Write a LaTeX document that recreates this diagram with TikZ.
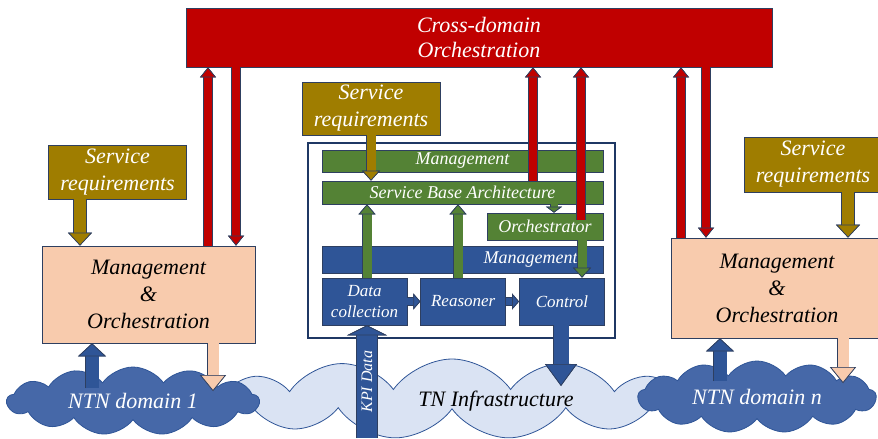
\documentclass[tikz,border=0pt]{standalone}
\usepackage{fontspec}
\setmainfont{Liberation Serif}
\usetikzlibrary{positioning,shapes.symbols,arrows.meta}
\definecolor{crossred}{HTML}{C00000}
\definecolor{olivebox}{HTML}{9F7D00}
\definecolor{peachbox}{HTML}{F8CBAD}
\definecolor{greenbox}{HTML}{548235}
\definecolor{bluebox}{HTML}{2F5597}
\definecolor{framec}{HTML}{1F3864}
\definecolor{edgec}{HTML}{2E3F60}
\definecolor{ntncloud}{HTML}{4668A8}
\definecolor{tncloud}{HTML}{DAE3F3}

\tikzset{
  box/.style={draw=edgec, line width=0.7pt, inner sep=0pt, align=center, font=\itshape\fontsize{22}{25}\selectfont},
  cross/.style={box, fill=crossred, text=white},
  req/.style={box, fill=olivebox, text=white, minimum width=138pt, minimum height=54pt, font=\itshape\fontsize{22}{27}\selectfont},
  mo/.style={box, fill=peachbox, text=black, font=\itshape\fontsize{22}{27}\selectfont},
  gbar/.style={box, fill=greenbox, text=white, font=\itshape\fontsize{18}{20}\selectfont},
  bbar/.style={box, fill=bluebox, text=white, font=\itshape\fontsize{18}{20}\selectfont},
  fn/.style={bbar, minimum width=85pt, minimum height=47pt, font=\itshape\fontsize{17}{21}\selectfont},
  cl/.style={cloud, cloud puffs=13, cloud puff arc=110, cloud ignores aspect, draw=bluebox, line width=0.8pt, inner sep=0pt},
  lab/.style={font=\itshape\fontsize{22}{26}\selectfont},
  blk/.style n args={4}{draw=#1, line width=#2, -{Triangle[width=#3, length=#4, line width=0.7pt, color=edgec, fill=#1]}, preaction={draw=edgec, line width=#2+1.4pt}},
  redar/.style={blk={crossred}{8pt}{16pt}{10pt}},
}

\begin{document}
\begin{tikzpicture}[x=1pt, y=-1pt]
\useasboundingbox (0,0) rectangle (878,439);

% clouds
\node[cl, fill=tncloud, minimum width=478pt, minimum height=80pt] (tn) at (452,399) {};
\node[lab, text=black] (tnlab) at (496,401) {TN Infrastructure};
\node[cl, fill=ntncloud, minimum width=252pt, minimum height=68pt, lab, text=white] (ntn1) at (133,401) {NTN domain 1};
\node[cl, fill=ntncloud, minimum width=238pt, minimum height=72pt, lab, text=white] (ntnn) at (757,397) {NTN domain n};

% top and side boxes
\node[cross, minimum width=586pt, minimum height=59pt] (cdo) at (479,37.5) {Cross-domain\\Orchestration};
\node[req] (srL) at (117.5,172) {Service\\requirements};
\node[req, minimum height=53pt] (srM) at (371,108.5) {Service\\requirements};
\node[req, minimum height=55pt] (srR) at (813,164.5) {Service\\requirements};
\node[mo, minimum width=213pt, minimum height=97pt] (moL) at (148.5,294.5) {Management\\\&\\Orchestration};
\node[mo, minimum width=212pt, minimum height=100pt] (moR) at (777,288) {Management\\\&\\Orchestration};

% TN domain controller
\node[draw=framec, line width=2.6pt, fill=white, minimum width=307pt, minimum height=195pt] (frame) at (461.5,240.5) {};
\node[gbar, minimum width=281pt, minimum height=22pt] (mgG) at (462.5,161) {Management};
\node[gbar, minimum width=281pt, minimum height=23pt] (sba) at (462.5,192.5) {Service Base Architecture};
\node[gbar, minimum width=116pt, minimum height=27pt] (orch) at (545,226.5) {Orchestrator};
\node[bbar, minimum width=281pt, minimum height=27pt, text width=230pt, align=right] (mgB) at (462.5,259.5) {Management};
\node[fn] (dc) at (364.5,301.5) {Data\\collection};
\node[fn, right=13pt of dc] (rsn) {Reasoner};
\node[fn, right=13pt of rsn] (ctl) {Control};

% arrow columns and loose ends
\coordinate (r1) at (208,0);
\coordinate (r2) at (236,0);
\coordinate (r3) at (533,0);
\coordinate (r4) at (581,0);
\coordinate (r5) at (681,0);
\coordinate (r6) at (706,0);
\coordinate (o1) at (80,0);
\coordinate (o2) at (371,0);
\coordinate (o3) at (848,0);
\coordinate (g1) at (367,0);
\coordinate (g2) at (458,0);
\coordinate (g3) at (554,0);
\coordinate (g4) at (582,0);
\coordinate (upL) at (92,388);
\coordinate (dnL) at (213,391);
\coordinate (upR) at (720,381);
\coordinate (dnR) at (843,383);
\coordinate (kpi) at (367,438);
\coordinate (tnin) at (561,386);

% red links to cross-domain orchestration
\draw[redar] (moL.north -| r1) -- (cdo.south -| r1);
\draw[redar] (cdo.south -| r2) -- (moL.north -| r2);
\draw[redar] (sba.north -| r3) -- (cdo.south -| r3);
\draw[redar] ([yshift=-7pt]orch.north -| r4) -- (cdo.south -| r4);
\draw[redar] (moR.north -| r5) -- (cdo.south -| r5);
\draw[redar] (cdo.south -| r6) -- (moR.north -| r6);

% service requirements
\draw[blk={olivebox}{12pt}{24pt}{13pt}] (srL.south -| o1) -- (moL.north -| o1);
\draw[blk={olivebox}{9pt}{18pt}{10pt}] (srM.south -| o2) -- (sba.north -| o2);
\draw[blk={olivebox}{12pt}{24pt}{13pt}] (srR.south -| o3) -- (moR.north -| o3);

% inside the TN controller
\draw[blk={greenbox}{9pt}{17pt}{10pt}] (dc.north -| g1) -- (sba.south -| g1);
\draw[blk={greenbox}{9pt}{17pt}{10pt}] (rsn.north -| g2) -- (sba.south -| g2);
\draw[blk={greenbox}{7pt}{16pt}{6pt}] (sba.south -| g3) -- (orch.north -| g3);
\draw[blk={greenbox}{9pt}{18pt}{10pt}] (orch.south -| g4) -- (ctl.north -| g4);
\draw[blk={bluebox}{7pt}{16pt}{7pt}] (dc) -- (rsn);
\draw[blk={bluebox}{7pt}{16pt}{7pt}] (rsn) -- (ctl);

% domains
\draw[blk={bluebox}{13pt}{28pt}{13pt}] (upL) -- (moL.south -| upL);
\draw[blk={peachbox}{11pt}{26pt}{16pt}] (moL.south -| dnL) -- (dnL);
\draw[blk={bluebox}{13pt}{28pt}{13pt}] (upR) -- (moR.south -| upR);
\draw[blk={peachbox}{11pt}{26pt}{16pt}] (moR.south -| dnR) -- (dnR);
\draw[blk={bluebox}{20pt}{40pt}{10pt}] (kpi) -- (dc.south -| kpi)
  node[midway, rotate=90, text=white, font=\itshape\fontsize{16}{18}\selectfont] {KPI Data};
\draw[blk={bluebox}{15pt}{32pt}{22pt}] (ctl.south -| tnin) -- (tnin);
\end{tikzpicture}
\end{document}
